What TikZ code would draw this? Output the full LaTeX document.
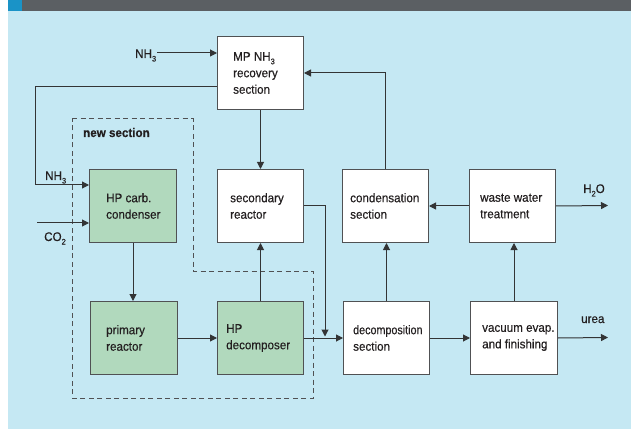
\documentclass[tikz,border=0pt]{standalone}
\usepackage{fontspec}
\setmainfont{Liberation Sans}[FakeStretch=0.93, FakeBold=0.35]
\usetikzlibrary{arrows.meta}

\definecolor{bgblue}{HTML}{C5E8F3}
\definecolor{boxgreen}{HTML}{B1D9BD}
\definecolor{barGrey}{HTML}{5B5F63}
\definecolor{barBlue}{HTML}{1A93C7}
\definecolor{lineC}{HTML}{333435}
\definecolor{edgeC}{HTML}{505153}
\definecolor{txtC}{HTML}{231F20}

% deep-set chemical subscript
\newcommand\chsub[1]{\raisebox{-3.5pt}{\fontsize{8}{8}\selectfont #1}}

\tikzset{
  unit/.style={draw=edgeC, line width=1pt, fill=white, minimum width=86pt,
    minimum height=73pt, anchor=north west, inner sep=0pt},
  greenunit/.style={unit, fill=boxgreen},
  lbl/.style={anchor=west, align=left, inner sep=0pt, text=txtC,
    font=\fontsize{12.5}{16.5}\selectfont},
  chem/.style={inner sep=0pt, text=txtC, font=\fontsize{12.5}{16.5}\selectfont},
  flow/.style={draw=lineC, line width=1pt, -{Triangle[length=7pt,width=7pt]}},
  zone/.style={draw=edgeC, line width=1pt, dash pattern=on 5pt off 3.5pt},
}

\begin{document}
\begin{tikzpicture}[x=1pt,y=-1pt]
\useasboundingbox (0,0) rectangle (631,430);

% panel background and header strip
\fill[bgblue] (8,11) rectangle (631,429);
\fill[barGrey] (22,0) rectangle (631,11);
\fill[barBlue] (8,0) rectangle (22,11);

% process units
\node[unit] (mp) at (217,36) {};
\node[unit] (sec) at (217,169) {};
\node[greenunit, minimum width=87pt] (carb) at (89,169) {};
\node[greenunit, minimum width=87pt] (prim) at (90,301) {};
\node[greenunit] (hpd) at (217,301) {};
\node[unit] (cond) at (342,169) {};
\node[unit] (waste) at (469,169) {};
\node[unit] (dec) at (343,301) {};
\node[unit, minimum width=87pt] (vac) at (470,301) {};

% unit captions
\node[lbl] (mpt) at ([xshift=16pt]mp.west) {MP NH\chsub{3}\\recovery\\section};
\node[lbl] (sect) at ([xshift=13pt]sec.west) {secondary\\reactor};
\node[lbl] (carbt) at ([xshift=17pt]carb.west) {HP carb.\\condenser};
\node[lbl] (primt) at ([xshift=16pt]prim.west) {primary\\reactor};
\node[lbl] (hpdt) at ([xshift=9pt]hpd.west) {HP\\decomposer};
\node[lbl] (condt) at ([xshift=8pt]cond.west) {condensation\\section};
\node[lbl] (wastet) at ([xshift=11pt]waste.west) {waste water\\treatment};
\node[lbl] (dect) at ([xshift=10pt]dec.west)
  {\addfontfeature{FakeStretch=0.86}decomposition\\section};
\node[lbl] (vact) at ([xshift=12pt]vac.west) {vacuum evap.\\and finishing};

% boundary of the new section
\draw[zone] (72,119) -- (193,119) -- (193,271) -- (313,271) -- (313,398)
  -- (72,398) -- cycle;
\node[chem, anchor=base west, font=\fontsize{12.5}{16.5}\selectfont\bfseries]
  (newsec) at (83,137) {new section};

% feed and product labels
\node[chem, anchor=base west] (nh3top) at (135,58) {NH\chsub{3}};
\node[chem, anchor=base west] (nh3left) at (45,180) {NH\chsub{3}};
\node[chem, anchor=base west] (co2) at (44,241) {CO\chsub{2}};
\node[chem, anchor=base west] (urea) at (581,323) {urea};
\node[chem, anchor=base west] (h2o) at (583,193) {H\chsub{2}O};

% free ends of the streams
\coordinate (nh3in) at (157,53);
\coordinate (co2in) at (37,223);
\coordinate (loopx) at (35,185);
\coordinate (join) at (325,336.5);
\coordinate (ureaout) at (608,337.5);
\coordinate (h2oout) at (608,205.5);

% streams
\draw[flow] (nh3in) -- (nh3in -| mp.west);
\draw[flow] (cond.north) |- (mp.east);
\draw[flow] (mp.west |- 0,87) -| (loopx) -- (carb.west |- loopx);
\draw[flow] (co2in) -- (co2in -| carb.west);
\draw[flow] (mp.south) -- (sec.north);
\draw[flow] (carb.south) -- (carb.south |- prim.north);
\draw[flow] (prim.east) -- (hpd.west);
\draw[flow] (hpd.north) -- (sec.south);
\draw[flow] (hpd.east) -- (dec.west);
\draw[flow] (sec.east) -| (join);
\draw[flow] (dec.north) -- (dec.north |- cond.south);
\draw[flow] (dec.east) -- (vac.west);
\draw[flow] (vac.north) -- (vac.north |- waste.south);
\draw[flow] (vac.east) -- (ureaout);
\draw[flow] (waste.west) -- (cond.east);
\draw[flow] (waste.east) -- (h2oout);
\end{tikzpicture}
\end{document}
